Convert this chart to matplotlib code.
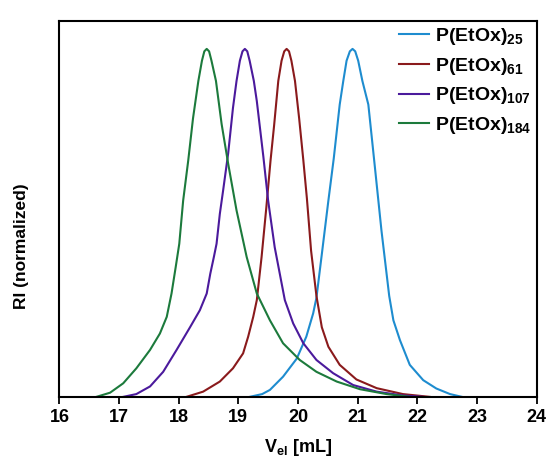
import matplotlib
matplotlib.use("Agg")
import matplotlib.pyplot as plt

plt.rcParams["font.family"] = ["Liberation Sans", "DejaVu Sans"]
plt.rcParams["font.weight"] = "bold"
plt.rcParams["mathtext.fontset"] = "custom"
plt.rcParams["mathtext.rm"] = "Liberation Sans:bold"
plt.rcParams["mathtext.bf"] = "Liberation Sans:bold"
plt.rcParams["mathtext.it"] = "Liberation Sans:bold"
plt.rcParams["mathtext.default"] = "bf"

# SEC traces (elution volume in mL, normalized RI)
v_25 = [19.19, 19.40, 19.53, 19.75, 19.98, 20.14, 20.255, 20.31, 20.40, 20.51,
        20.60, 20.70, 20.76, 20.815, 20.87, 20.915, 20.96, 21.01, 21.08, 21.18,
        21.29, 21.40, 21.53, 21.60, 21.71, 21.875, 22.10, 22.32, 22.55, 22.75]
ri_25 = [0.0, 0.008, 0.020, 0.058, 0.110, 0.173, 0.240, 0.285, 0.410, 0.564,
         0.685, 0.840, 0.908, 0.966, 0.993, 1.0, 0.993, 0.966, 0.908, 0.840,
         0.660, 0.478, 0.290, 0.220, 0.163, 0.092, 0.048, 0.024, 0.008, 0.0]

v_61 = [18.13, 18.41, 18.69, 18.91, 19.08, 19.165, 19.25, 19.31, 19.39, 19.47,
        19.54, 19.60, 19.67, 19.725, 19.77, 19.81, 19.85, 19.89, 19.95, 20.02,
        20.09, 20.15, 20.22, 20.31, 20.40, 20.51, 20.70, 20.98, 21.32, 21.76, 22.21]
ri_61 = [0.0, 0.015, 0.044, 0.082, 0.125, 0.173, 0.230, 0.278, 0.402, 0.545,
         0.679, 0.780, 0.908, 0.966, 0.993, 1.0, 0.993, 0.966, 0.908, 0.800,
         0.680, 0.570, 0.420, 0.290, 0.200, 0.144, 0.092, 0.050, 0.025, 0.008, 0.0]

v_107 = [17.07, 17.29, 17.52, 17.74, 17.965, 18.19, 18.355, 18.47, 18.53, 18.59,
         18.635, 18.69, 18.745, 18.83, 18.91, 18.97, 19.026, 19.07, 19.11, 19.15,
         19.19, 19.26, 19.31, 19.42, 19.50, 19.61, 19.78, 19.92, 20.09, 20.31,
         20.59, 20.925, 21.32, 21.76, 22.10]
ri_107 = [0.0, 0.008, 0.030, 0.072, 0.135, 0.200, 0.249, 0.297, 0.354, 0.402,
          0.440, 0.526, 0.593, 0.700, 0.830, 0.908, 0.966, 0.993, 1.0, 0.993,
          0.966, 0.908, 0.850, 0.690, 0.564, 0.430, 0.278, 0.211, 0.154, 0.106,
          0.068, 0.034, 0.015, 0.004, 0.0]

v_184 = [16.62, 16.85, 17.07, 17.29, 17.52, 17.685, 17.80, 17.88, 17.95, 18.01,
         18.075, 18.16, 18.24, 18.33, 18.39, 18.43, 18.47, 18.51, 18.55, 18.625,
         18.72, 18.83, 18.97, 19.14, 19.31, 19.53, 19.75, 20.03, 20.31, 20.65,
         21.04, 21.485, 21.875]
ri_184 = [0.0, 0.012, 0.039, 0.082, 0.135, 0.182, 0.230, 0.297, 0.373, 0.440,
          0.564, 0.679, 0.800, 0.908, 0.966, 0.993, 1.0, 0.993, 0.966, 0.908,
          0.784, 0.670, 0.536, 0.402, 0.297, 0.220, 0.154, 0.106, 0.072, 0.044,
          0.022, 0.008, 0.0]

labels = [r"P(EtOx)$_{25}$", r"P(EtOx)$_{61}$", r"P(EtOx)$_{107}$", r"P(EtOx)$_{184}$"]
colors = ["#1e8ccf", "#8a1a1c", "#4b1a9c", "#1c7a3c"]

fig = plt.figure(figsize=(5.5, 4.68), dpi=100)
ax = fig.add_axes([0.108, 0.152, 0.8675, 0.803])

for v, ri, lab, c in zip([v_25, v_61, v_107, v_184], [ri_25, ri_61, ri_107, ri_184], labels, colors):
    ax.plot(v, ri, color=c, lw=1.5, label=lab, solid_joinstyle="round")

ax.set_xlim(16, 24)
ax.set_ylim(0, 1.08)
ax.set_xticks(range(16, 25))
ax.set_yticks([])
ax.tick_params(axis="x", direction="out", length=5, width=1.3, labelsize=13, pad=4)
for lab in ax.get_xticklabels():
    lab.set_fontweight("bold")
for s in ax.spines.values():
    s.set_linewidth(1.5)

ax.set_xlabel(r"V$_{el}$ [mL]", fontsize=13, fontweight="bold", labelpad=8)
ax.set_ylabel("RI (normalized)", fontsize=12.5, fontweight="bold")
ax.yaxis.set_label_coords(-0.063, 0.40)

ax.legend(loc="upper right", frameon=False, handlelength=1.55,
          handletextpad=0.3, labelspacing=0.45, borderaxespad=0.0, borderpad=0.25,
          prop={"weight": "bold", "size": 14})

fig.savefig("out.png", dpi=100)
